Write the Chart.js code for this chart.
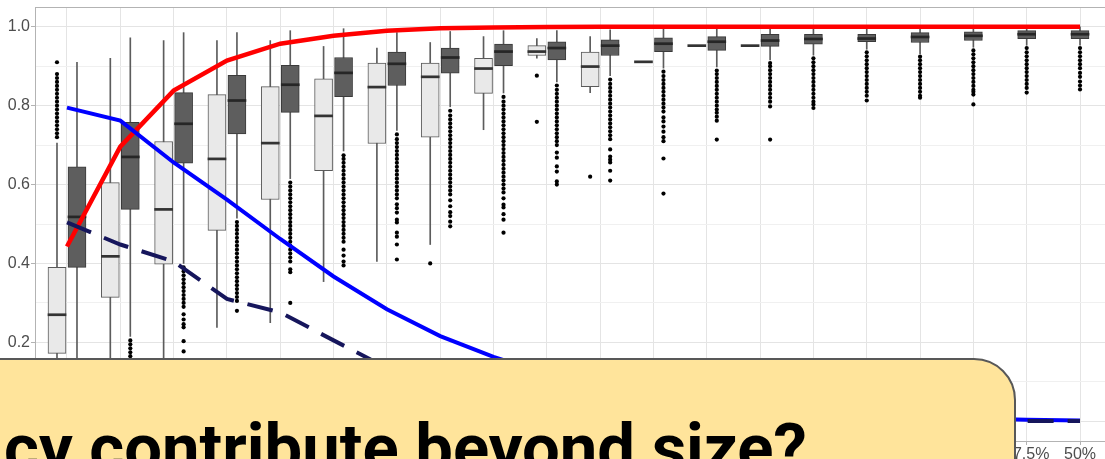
<!DOCTYPE html>
<html><head><meta charset="utf-8">
<script src="https://cdn.jsdelivr.net/npm/chart.js@4.4.1/dist/chart.umd.min.js"></script>
<style>
html,body{margin:0;padding:0;background:#fff;}
body{width:1105px;height:459px;overflow:hidden;position:relative;}
#wrap{position:absolute;left:0;top:0;width:1130px;height:470px;}
#box{position:absolute;left:-60px;top:358px;width:1076px;height:200px;background:#ffe49b;border:2px solid #585858;border-radius:42px;box-sizing:border-box;}
#txt{position:absolute;left:4px;top:415px;font-family:Roboto,"Liberation Sans",sans-serif;font-weight:700;font-size:67px;line-height:67px;white-space:nowrap;color:#000;}
</style></head>
<body>
<div id="wrap"><canvas id="c" width="1130" height="470"></canvas></div>
<div id="box"></div>
<div id="txt">cy contribute beyond size?</div>
<script>
const xLabels = ['2.5%','5%','7.5%','10%','12.5%','15%','17.5%','20%','22.5%','25%','27.5%','30%','32.5%','35%','37.5%','40%','42.5%','45%','47.5%','50%'];
const yTickValues = [0,0.1,0.2,0.3,0.4,0.5,0.6,0.7,0.8,0.9,1.0];
const yLabels = {0:'0.0',0.2:'0.2',0.4:'0.4',0.6:'0.6',0.8:'0.8',1:'1.0'};

// light boxes (group A)
const aLo  = [0.0,0.02,0.05,0.238,0.25,0.354,0.405,0.448,0.739,0.92,0.833,0.911,0.952,0.952,null,null,null,null,null,null];
const aQ1  = [0.172,0.314,0.398,0.484,0.562,0.635,0.704,0.72,0.831,0.927,0.848,0.911,0.952,0.952,null,null,null,null,null,null];
const aMed = [0.27,0.418,0.537,0.665,0.705,0.774,0.847,0.873,0.894,0.937,0.899,0.911,0.952,0.952,null,null,null,null,null,null];
const aQ3  = [0.39,0.605,0.709,0.828,0.848,0.868,0.908,0.908,0.92,0.952,0.936,0.911,0.952,0.952,null,null,null,null,null,null];
const aHi  = [0.705,0.92,0.965,0.965,0.965,0.95,0.946,0.96,0.975,0.97,0.975,0.911,0.952,0.952,null,null,null,null,null,null];
// dark boxes (group B)
const bLo  = [0.03,0.215,0.40,0.515,0.615,0.685,0.737,0.797,0.832,0.86,0.876,0.895,0.898,0.916,0.928,0.943,0.932,0.948,0.953,0.953];
const bQ1  = [0.39,0.537,0.654,0.728,0.783,0.823,0.851,0.882,0.901,0.916,0.927,0.937,0.94,0.95,0.956,0.962,0.96,0.965,0.97,0.97];
const bMed = [0.518,0.67,0.754,0.813,0.853,0.883,0.906,0.922,0.937,0.946,0.952,0.957,0.962,0.965,0.969,0.97,0.974,0.977,0.981,0.981];
const bQ3  = [0.645,0.758,0.833,0.877,0.902,0.922,0.936,0.946,0.956,0.962,0.967,0.972,0.975,0.981,0.981,0.981,0.985,0.987,0.99,0.99];
const bHi  = [0.91,0.972,0.985,0.985,0.99,0.995,0.985,0.988,0.99,0.99,0.992,0.995,0.995,1.0,1.0,1.0,1.0,1.0,1.0,1.0];

const outA = [
 [0.72,0.73,0.74,0.75,0.76,0.77,0.78,0.79,0.80,0.81,0.82,0.83,0.84,0.85,0.86,0.87,0.88,0.91],
 [],[],[],[],[],[],
 [0.40],
 [],
 [0.876,0.759],
 [0.62],
 [],[],[],[],[],[],[],[],[]
];
const outB = [
 [],
 [0.205,0.195,0.185,0.175,0.165],
 [0.39,0.38,0.37,0.36,0.35,0.34,0.33,0.32,0.31,0.30,0.29,0.271,0.258,0.246,0.238,0.203,0.177],
 [0.505,0.495,0.485,0.475,0.465,0.455,0.445,0.435,0.425,0.415,0.405,0.395,0.385,0.375,0.365,0.355,0.345,0.335,0.325,0.315,0.305,0.28],
 [0.605,0.595,0.585,0.575,0.565,0.555,0.545,0.535,0.525,0.515,0.505,0.495,0.485,0.475,0.465,0.455,0.445,0.435,0.425,0.415,0.405,0.385,0.378,0.30],
 [0.674,0.665,0.655,0.645,0.635,0.625,0.615,0.605,0.595,0.585,0.575,0.565,0.555,0.545,0.535,0.525,0.515,0.505,0.495,0.485,0.475,0.465,0.455,0.435,0.42,0.405,0.395],
 [0.727,0.715,0.705,0.695,0.685,0.675,0.665,0.655,0.645,0.635,0.625,0.615,0.605,0.595,0.585,0.575,0.565,0.55,0.54,0.529,0.511,0.504,0.478,0.468,0.448,0.41],
 [0.787,0.775,0.765,0.755,0.745,0.735,0.725,0.715,0.705,0.695,0.685,0.675,0.665,0.655,0.645,0.635,0.625,0.615,0.605,0.595,0.585,0.575,0.56,0.545,0.53,0.52,0.506,0.494],
 [0.822,0.81,0.80,0.79,0.78,0.77,0.76,0.75,0.74,0.73,0.72,0.71,0.70,0.69,0.68,0.67,0.66,0.65,0.64,0.63,0.62,0.61,0.60,0.59,0.58,0.565,0.549,0.542,0.525,0.511,0.478],
 [0.851,0.84,0.83,0.82,0.81,0.80,0.79,0.78,0.77,0.76,0.75,0.74,0.73,0.72,0.71,0.70,0.681,0.668,0.646,0.633,0.608,0.60],
 [0.866,0.855,0.845,0.835,0.825,0.815,0.805,0.795,0.785,0.775,0.765,0.755,0.745,0.735,0.725,0.715,0.689,0.671,0.663,0.656,0.635,0.61],
 [0.886,0.875,0.865,0.855,0.845,0.835,0.825,0.815,0.805,0.795,0.785,0.77,0.76,0.747,0.734,0.72,0.71,0.666,0.577],
 [0.889,0.88,0.87,0.86,0.85,0.84,0.83,0.82,0.81,0.80,0.79,0.782,0.772,0.762,0.714],
 [0.908,0.90,0.89,0.88,0.87,0.86,0.85,0.84,0.83,0.82,0.81,0.798,0.714],
 [0.92,0.91,0.90,0.89,0.88,0.87,0.86,0.85,0.84,0.83,0.82,0.81,0.803,0.794],
 [0.935,0.925,0.915,0.905,0.895,0.885,0.875,0.865,0.855,0.845,0.835,0.825,0.813],
 [0.924,0.915,0.905,0.895,0.885,0.875,0.865,0.855,0.845,0.835,0.825,0.82],
 [0.94,0.93,0.92,0.91,0.90,0.89,0.88,0.87,0.86,0.85,0.84,0.835,0.828,0.803],
 [0.946,0.935,0.925,0.915,0.905,0.895,0.885,0.875,0.865,0.855,0.845,0.833],
 [0.946,0.935,0.925,0.915,0.905,0.895,0.883,0.873,0.861,0.851,0.841]
];

const redLine  = [0.443,0.696,0.838,0.914,0.957,0.977,0.99,0.996,0.998,0.999,1,1,1,1,1,1,1,1,1,1];
const blueLine = [0.795,0.762,0.656,0.562,0.462,0.367,0.284,0.216,0.163,0.12,0.088,0.064,0.046,0.033,0.023,0.016,0.011,0.007,0.004,0.002];
const navyLine = [0.504,0.448,0.405,0.31,0.276,0.205,0.135,0.09,0.06,0.04,0.028,0.019,0.013,0.009,0.006,0.004,0.003,0.002,0.001,0.001];

const DODGE = 0.1875;
const MED_HALF = 0.0026; // half thickness of median bar (≈1px)
function posA(i){ return i+1-DODGE; }
function posB(i){ return aMed[i]===null ? i+1 : i+1+DODGE; }

const idx = xLabels.map((_,i)=>i);
const idxA = idx.filter(i=>aMed[i]!==null);

const boxA = idxA.map(i=>({x:posA(i), y:[aQ1[i],aQ3[i]]}));
const boxB = idx.map(i=>({x:posB(i), y:[bQ1[i],bQ3[i]]}));
const whA = idxA.map(i=>({x:posA(i), y:[aLo[i],aHi[i]]}));
const whB = idx.map(i=>({x:posB(i), y:[bLo[i],bHi[i]]}));
const medA = idxA.map(i=>({x:posA(i), y:[aMed[i]-MED_HALF, aMed[i]+MED_HALF]}));
const medB = idx.map(i=>({x:posB(i), y:[bMed[i]-MED_HALF, bMed[i]+MED_HALF]}));
const outPts = [];
idx.forEach(i=>{ outA[i].forEach(v=>outPts.push({x:posA(i),y:v})); outB[i].forEach(v=>outPts.push({x:posB(i),y:v})); });
const lineData = arr => arr.map((v,i)=>({x:i+1,y:v}));

const panelBorder = {
  id:'panelBorder',
  beforeDatasetsDraw(chart){
    const {ctx, chartArea:a} = chart;
    ctx.save(); ctx.strokeStyle='#b3b3b3'; ctx.lineWidth=1;
    ctx.strokeRect(Math.round(a.left)+0.5, Math.round(a.top)+0.5, a.right-a.left, a.bottom-a.top);
    ctx.restore();
  }
};

const isMajor = v => Math.abs(v*10 - Math.round(v*10)) < 1e-6 && Math.round(v*10)%2===0;
const noPad = s => { s.paddingTop=0; s.paddingBottom=0; s.paddingLeft=0; s.paddingRight=0; };

new Chart(document.getElementById('c'), {
  type:'bar',
  data:{datasets:[
    {type:'line', data:lineData(navyLine), borderColor:'#16165c', borderWidth:4, borderDash:[26,14], borderCapStyle:'butt', pointRadius:0, tension:0, order:0},
    {type:'line', data:lineData(blueLine), borderColor:'#0000ff', borderWidth:4, pointRadius:0, tension:0, order:1},
    {type:'line', data:lineData(redLine), borderColor:'#ff0000', borderWidth:4.5, pointRadius:0, tension:0, order:2},
    {type:'scatter', data:outPts, pointRadius:2.1, pointBackgroundColor:'#000', pointBorderWidth:0, order:3},
    {type:'bar', data:medA, backgroundColor:'#333333', borderWidth:0, barThickness:18, grouped:false, order:4},
    {type:'bar', data:medB, backgroundColor:'#262626', borderWidth:0, barThickness:18, grouped:false, order:4},
    {type:'bar', data:boxA, backgroundColor:'#e9e9e9', borderColor:'#5a5a5a', borderWidth:1, borderSkipped:false, barThickness:18, grouped:false, order:5},
    {type:'bar', data:boxB, backgroundColor:'#5e5e5e', borderColor:'#3a3a3a', borderWidth:1, borderSkipped:false, barThickness:18, grouped:false, order:5},
    {type:'bar', data:whA, backgroundColor:'#5c5c5c', borderWidth:0, barThickness:1, grouped:false, order:6},
    {type:'bar', data:whB, backgroundColor:'#5c5c5c', borderWidth:0, barThickness:1, grouped:false, order:6}
  ]},
  options:{
    responsive:false, animation:false, devicePixelRatio:1,
    layout:{padding:{top:7,left:0,right:18,bottom:0}},
    plugins:{legend:{display:false}, tooltip:{enabled:false}},
    scales:{
      x:{type:'linear', min:0.4, max:20.6, offset:false,
        afterBuildTicks(s){ s.ticks = xLabels.map((_,i)=>({value:i+1})); },
        afterFit(s){ s.height = 29; noPad(s); },
        grid:{offset:false, color:'#e4e4e4', lineWidth:1, tickLength:4, tickColor:'#b3b3b3'},
        border:{display:true, color:'#b3b3b3'},
        ticks:{autoSkip:false, maxRotation:0, padding:0, color:'#4d4d4d', font:{family:'"Liberation Sans", Arial, sans-serif', size:16},
          callback:(v)=>xLabels[Math.round(v)-1]}
      },
      y:{type:'linear', min:-0.05, max:1.05,
        afterBuildTicks(s){ s.ticks = yTickValues.map(v=>({value:v})); },
        afterFit(s){ s.width = 35; noPad(s); },
        grid:{color:(c)=>isMajor(c.tick.value)?'#e4e4e4':'#f0f0f0', tickLength:4, tickColor:(c)=>isMajor(c.tick.value)?'#b3b3b3':'rgba(0,0,0,0)'},
        border:{display:true, color:'#b3b3b3'},
        ticks:{autoSkip:false, padding:1, color:'#4d4d4d', font:{family:'"Liberation Sans", Arial, sans-serif', size:16},
          callback:(v)=>{ const k = Math.round(v*10)/10; return isMajor(v) ? yLabels[k] : ''; }}
      }
    }
  },
  plugins:[panelBorder]
});
</script>
</body></html>
